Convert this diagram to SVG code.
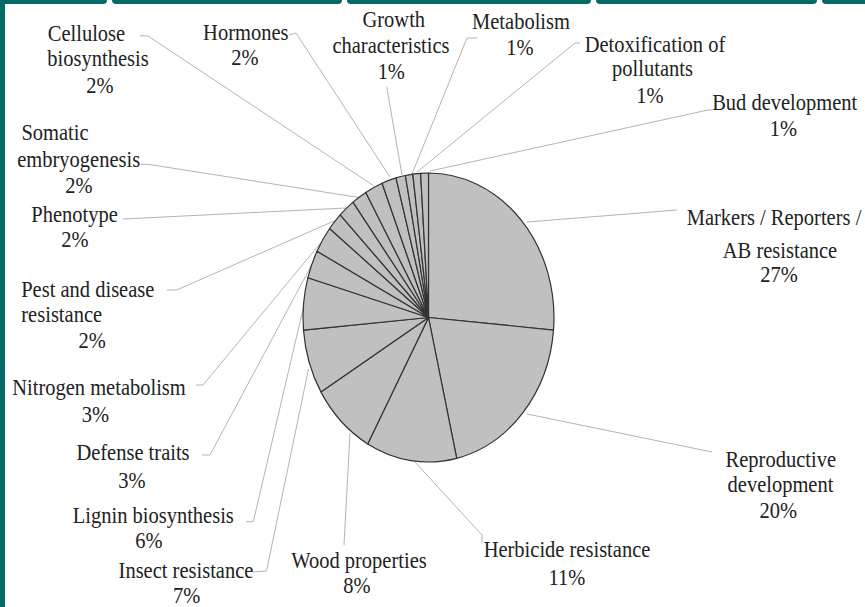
<svg xmlns="http://www.w3.org/2000/svg" width="865" height="607" viewBox="0 0 865 607">
<style>
.bg{fill:#ffffff}
.frame{fill:#036a68}
.slice{fill:#c0c0c0;stroke:#333333;stroke-width:1.2;stroke-linejoin:round}
.lead{fill:none;stroke:#b4b4b4;stroke-width:1}
text{font-family:"Liberation Serif","Times New Roman",serif;font-size:20.5px;fill:#222222;text-anchor:middle}
</style>
<rect class="bg" x="0" y="0" width="865" height="607"/>
<g id="frame">
<rect class="frame" x="-10" y="-10" width="117" height="14" rx="4"/>
<rect class="frame" x="112" y="-10" width="230" height="14" rx="4"/>
<rect class="frame" x="347" y="-10" width="244" height="14" rx="4"/>
<rect class="frame" x="596" y="-10" width="221" height="14" rx="4"/>
<rect class="frame" x="822" y="-10" width="60" height="14" rx="4"/>
<rect class="frame" x="0" y="0" width="5" height="607"/>
</g>
<g id="connectors">
<polyline class="lead" points="527,222 677,210"/>
<polyline class="lead" points="527,414 712,452"/>
<polyline class="lead" points="415,462 482,535 482,543"/>
<polyline class="lead" points="350,433 344,545"/>
<polyline class="lead" points="308.5,369 266.5,571 253,572"/>
<polyline class="lead" points="304,305 253.3,521.7 246,521.7"/>
<polyline class="lead" points="311,266 210,455 202,455"/>
<polyline class="lead" points="323,240 203,385 196,385"/>
<polyline class="lead" points="334,221 176.7,290 167,290"/>
<polyline class="lead" points="346,208 123,219"/>
<polyline class="lead" points="359,197.5 148.3,164.3 141,164.3"/>
<polyline class="lead" points="374,186 148,36 140,35.7"/>
<polyline class="lead" points="390,177 296,33 289,35"/>
<polyline class="lead" points="402,175 386.7,86.7"/>
<polyline class="lead" points="412,174 467,38 477,38"/>
<polyline class="lead" points="417,172 575,43 580,43"/>
<polyline class="lead" points="430,171 708,110 712,110"/>
</g>
<g id="markers"><path class="slice" d="M428.5 317.5 L428.5 173 A125.5 144.5 0 0 1 553.5 330.1 Z"/>
<text transform="scale(1,1.15)" x="774" y="195.65">Markers / Reporters /</text><text transform="scale(1,1.15)" x="780" y="224.61">AB resistance</text><text transform="scale(1,1.15)" x="779" y="245.65">27%</text></g>
<g id="reproductive"><path class="slice" d="M428.5 317.5 L553.5 330.1 A125.5 144.5 0 0 1 456.7 458.3 Z"/>
<text transform="scale(1,1.15)" x="780.8" y="406.35">Reproductive</text><text transform="scale(1,1.15)" x="780.5" y="427.57">development</text><text transform="scale(1,1.15)" x="778.3" y="450.7">20%</text></g>
<g id="herbicide"><path class="slice" d="M428.5 317.5 L456.7 458.3 A125.5 144.5 0 0 1 367.7 443.9 Z"/>
<text transform="scale(1,1.15)" x="567" y="484.09">Herbicide resistance</text><text transform="scale(1,1.15)" x="567" y="508.7">11%</text></g>
<g id="wood"><path class="slice" d="M428.5 317.5 L367.7 443.9 A125.5 144.5 0 0 1 320.9 391.9 Z"/>
<text transform="scale(1,1.15)" x="359" y="494.17">Wood properties</text><text transform="scale(1,1.15)" x="357" y="515.91">8%</text></g>
<g id="insect"><path class="slice" d="M428.5 317.5 L320.9 391.9 A125.5 144.5 0 0 1 303.5 330.1 Z"/>
<text transform="scale(1,1.15)" x="186" y="502.87">Insect resistance</text><text transform="scale(1,1.15)" x="186.7" y="524.61">7%</text></g>
<g id="lignin"><path class="slice" d="M428.5 317.5 L303.5 330.1 A125.5 144.5 0 0 1 307.9 277.7 Z"/>
<text transform="scale(1,1.15)" x="153.3" y="455.04">Lignin biosynthesis</text><text transform="scale(1,1.15)" x="149" y="476.78">6%</text></g>
<g id="defense"><path class="slice" d="M428.5 317.5 L307.9 277.7 A125.5 144.5 0 0 1 317 251.2 Z"/>
<text transform="scale(1,1.15)" x="133" y="400">Defense traits</text><text transform="scale(1,1.15)" x="132" y="424.61">3%</text></g>
<g id="nitrogen"><path class="slice" d="M428.5 317.5 L317 251.2 A125.5 144.5 0 0 1 329.6 228.5 Z"/>
<text transform="scale(1,1.15)" x="99" y="343.48">Nitrogen metabolism</text><text transform="scale(1,1.15)" x="95.5" y="366.7">3%</text></g>
<g id="pest"><path class="slice" d="M428.5 317.5 L329.6 228.5 A125.5 144.5 0 0 1 340.2 214.8 Z"/>
<text transform="scale(1,1.15)" x="87.8" y="258">Pest and disease</text><text transform="scale(1,1.15)" x="61.7" y="279.74">resistance</text><text transform="scale(1,1.15)" x="92.2" y="302.87">2%</text></g>
<g id="phenotype"><path class="slice" d="M428.5 317.5 L340.2 214.8 A125.5 144.5 0 0 1 353 202.1 Z"/>
<text transform="scale(1,1.15)" x="74.5" y="193.3">Phenotype</text><text transform="scale(1,1.15)" x="75" y="215.04">2%</text></g>
<g id="somatic"><path class="slice" d="M428.5 317.5 L353 202.1 A125.5 144.5 0 0 1 365.8 192.4 Z"/>
<text transform="scale(1,1.15)" x="55" y="121.74">Somatic</text><text transform="scale(1,1.15)" x="78.7" y="144.96">embryogenesis</text><text transform="scale(1,1.15)" x="79" y="168.09">2%</text></g>
<g id="cellulose"><path class="slice" d="M428.5 317.5 L365.8 192.4 A125.5 144.5 0 0 1 382.1 183.2 Z"/>
<text transform="scale(1,1.15)" x="86.5" y="35.65">Cellulose</text><text transform="scale(1,1.15)" x="98" y="57.39">biosynthesis</text><text transform="scale(1,1.15)" x="100" y="80.87">2%</text></g>
<g id="hormones"><path class="slice" d="M428.5 317.5 L382.1 183.2 A125.5 144.5 0 0 1 396 177.9 Z"/>
<text transform="scale(1,1.15)" x="245.8" y="34.78">Hormones</text><text transform="scale(1,1.15)" x="245" y="56.52">2%</text></g>
<g id="growth"><path class="slice" d="M428.5 317.5 L396 177.9 A125.5 144.5 0 0 1 405.4 175.5 Z"/>
<text transform="scale(1,1.15)" x="393.8" y="23.22">Growth</text><text transform="scale(1,1.15)" x="391" y="46.35">characteristics</text><text transform="scale(1,1.15)" x="391.3" y="68.7">1%</text></g>
<g id="metabolism"><path class="slice" d="M428.5 317.5 L405.4 175.5 A125.5 144.5 0 0 1 412.8 174.1 Z"/>
<text transform="scale(1,1.15)" x="521" y="25.48">Metabolism</text><text transform="scale(1,1.15)" x="520" y="47.83">1%</text></g>
<g id="detox"><path class="slice" d="M428.5 317.5 L412.8 174.1 A125.5 144.5 0 0 1 420.6 173.3 Z"/>
<text transform="scale(1,1.15)" x="655" y="44.96">Detoxification of</text><text transform="scale(1,1.15)" x="652.5" y="66.09">pollutants</text><text transform="scale(1,1.15)" x="650" y="89.83">1%</text></g>
<g id="bud"><path class="slice" d="M428.5 317.5 L420.6 173.3 A125.5 144.5 0 0 1 428.5 173 Z"/>
<text transform="scale(1,1.15)" x="784.7" y="95.65">Bud development</text><text transform="scale(1,1.15)" x="783.3" y="118.26">1%</text></g>
</svg>
